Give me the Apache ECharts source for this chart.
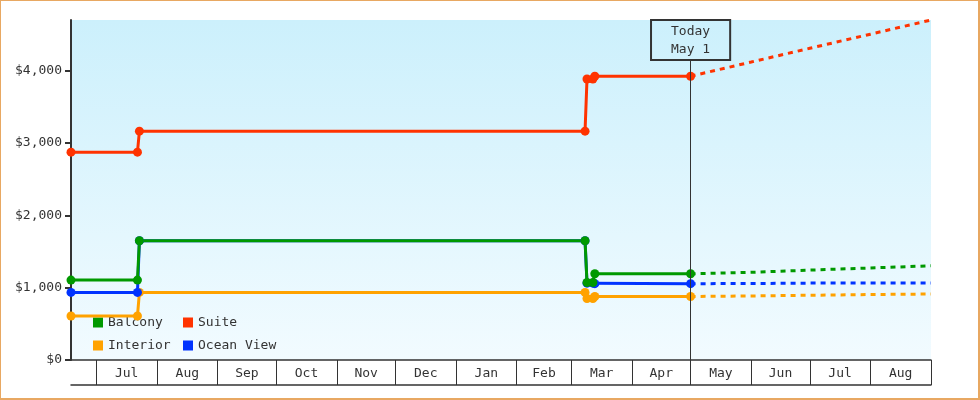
<!DOCTYPE html>
<html><head><meta charset="utf-8">
<script src="https://cdn.jsdelivr.net/npm/echarts@6/dist/echarts.min.js"></script>
<style>html,body{margin:0;padding:0;background:#fff}#c{width:980px;height:400px}</style>
</head><body><div id="c"></div>
<script>
// ---- data ----
const HIST_DATES = ['2016-06-18','2016-07-22','2016-07-23','2017-03-08','2017-03-09','2017-03-12','2017-03-13','2017-05-01'];
const BALCONY    = [1105, 1105, 1648, 1648, 1072, 1072, 1192, 1192];
const SUITE      = [2873, 2873, 3163, 3163, 3885, 3885, 3923, 3923];
const INTERIOR   = [608, 608, 934, 934, 850, 850, 878, 878];
const OCEAN_VIEW = [934, 934, 1648, 1648, 1062, 1062, 1055, 1055];

const FORECAST_DATES = ['2017-05-01','2017-06-01','2017-07-01','2017-08-01','2017-09-01'];
const BALCONY_FC    = [1192, 1212, 1243, 1272, 1302];
const SUITE_FC      = [3923, 4119, 4309, 4504, 4700];
const INTERIOR_FC   = [878, 885, 895, 905, 912];
const OCEAN_VIEW_FC = [1055, 1057, 1063, 1065, 1066];

const MONTH_STARTS = ['2016-07-01','2016-08-01','2016-09-01','2016-10-01','2016-11-01','2016-12-01',
  '2017-01-01','2017-02-01','2017-03-01','2017-04-01','2017-05-01','2017-06-01','2017-07-01','2017-08-01','2017-09-01'];
const MONTH_LABELS = ['Jul','Aug','Sep','Oct','Nov','Dec','Jan','Feb','Mar','Apr','May','Jun','Jul','Aug'];
const Y_TICKS = [0, 1000, 2000, 3000, 4000];

const X_MIN = '2016-06-18', X_MAX = '2017-09-01', Y_MAX = 4700;
const TODAY = '2017-05-01', TODAY_LABEL = 'Today\nMay 1', TODAY_LINE_TOP = 4148;

const COLORS = { Balcony: '#009900', Suite: '#ff3300', Interior: '#ffa200', 'Ocean View': '#0033ff' };

// ---- helpers ----
function ts(s) { const p = s.split('-').map(Number); return Date.UTC(p[0], p[1] - 1, p[2]); }
const FONT = 'DejaVu Sans Mono';
const tickVals = MONTH_STARTS.map(ts);
const labelVals = [], labelMap = {};
for (let i = 0; i < MONTH_LABELS.length; i++) {
  const mid = (tickVals[i] + tickVals[i + 1]) / 2;
  labelVals.push(mid); labelMap[mid] = MONTH_LABELS[i];
}
function pairs(dates, vals) { return dates.map((d, i) => [ts(d), vals[i]]); }

function hist(name, vals, z) {
  return { name, type: 'line', data: pairs(HIST_DATES, vals), z,
    color: COLORS[name], symbol: 'circle', symbolSize: 9, showSymbol: true,
    lineStyle: { width: 3, color: COLORS[name] }, itemStyle: { color: COLORS[name] },
    emphasis: { disabled: true }, silent: true };
}
function fc(name, vals, z) {
  return { name, type: 'line', data: pairs(FORECAST_DATES, vals), z,
    color: COLORS[name], symbol: 'none', showSymbol: false,
    lineStyle: { width: 3, type: [5, 5], color: COLORS[name] },
    emphasis: { disabled: true }, silent: true };
}

const series = [
  fc('Interior', INTERIOR_FC, 3), fc('Suite', SUITE_FC, 3), fc('Ocean View', OCEAN_VIEW_FC, 3), fc('Balcony', BALCONY_FC, 3),
  hist('Interior', INTERIOR, 4), hist('Suite', SUITE, 4), hist('Ocean View', OCEAN_VIEW, 4), hist('Balcony', BALCONY, 4)
];
series.push({
  type: 'line', data: [], silent: true, z: 5,
  markLine: {
    silent: true, symbol: 'none', animation: false,
    lineStyle: { color: '#333', width: 1, type: 'solid' },
    label: { show: true, position: 'end', distance: 0, formatter: TODAY_LABEL,
      fontFamily: FONT, fontSize: 13, lineHeight: 18, color: '#333',
      borderColor: '#333', borderWidth: 1, padding: [3, 20, 1, 20], backgroundColor: 'rgba(0,0,0,0)' },
    emphasis: { disabled: true },
    data: [[{ coord: [ts(TODAY), 0] }, { coord: [ts(TODAY), TODAY_LINE_TOP] }]]
  }
});

const legendBase = {
  orient: 'vertical', itemWidth: 10, itemHeight: 10, itemGap: 10, icon: 'rect', z: 1, padding: 0,
  selectedMode: false, textStyle: { fontFamily: FONT, fontSize: 13, color: '#333' }
};

const option = {
  animation: false,
  textStyle: { fontFamily: FONT },
  grid: { left: 71, top: 20, width: 860, height: 340, show: true, borderWidth: 0,
    backgroundColor: { type: 'linear', x: 0, y: 0, x2: 0, y2: 1,
      colorStops: [{ offset: 0, color: '#ccf0fc' }, { offset: 1, color: '#f2fbff' }] } },
  legend: [
    Object.assign({}, legendBase, { left: 93, top: 316, data: ['Balcony', 'Interior'] }),
    Object.assign({}, legendBase, { left: 183, top: 316, data: ['Suite', 'Ocean View'] })
  ],
  xAxis: [
    { type: 'value', min: ts(X_MIN), max: ts(X_MAX), position: 'bottom', scale: true,
      axisLine: { show: true, lineStyle: { color: '#333', width: 1.5 } },
      axisTick: { show: true, length: 25, customValues: tickVals, lineStyle: { color: '#333', width: 1 } },
      axisLabel: { show: true, customValues: labelVals, margin: 7, color: '#333', fontFamily: FONT, fontSize: 13,
        formatter: v => labelMap[v] || '' },
      splitLine: { show: false }, minorTick: { show: false } },
    { type: 'value', min: ts(X_MIN), max: ts(X_MAX), position: 'bottom', offset: 25, scale: true,
      axisLine: { show: true, lineStyle: { color: '#333', width: 1.5 } },
      axisTick: { show: false }, axisLabel: { show: false }, splitLine: { show: false } }
  ],
  yAxis: {
    type: 'value', min: 0, max: Y_MAX,
    axisLine: { show: true, lineStyle: { color: '#333', width: 2 } },
    axisTick: { show: true, length: 6, customValues: Y_TICKS, lineStyle: { color: '#333', width: 2 } },
    axisLabel: { show: true, customValues: Y_TICKS, margin: 9, color: '#333', fontFamily: FONT, fontSize: 13,
      formatter: v => '$' + v.toLocaleString('en-US') },
    splitLine: { show: false }
  },
  graphic: [{ type: 'rect', shape: { x: 0, y: 0, width: 979, height: 399 },
    style: { fill: 'none', stroke: '#e8a862', lineWidth: 2 }, silent: true, z: 100 }],
  series
};

const chart = echarts.init(document.getElementById('c'), null, { renderer: 'canvas' });
chart.setOption(option);
</script>
</body></html>
